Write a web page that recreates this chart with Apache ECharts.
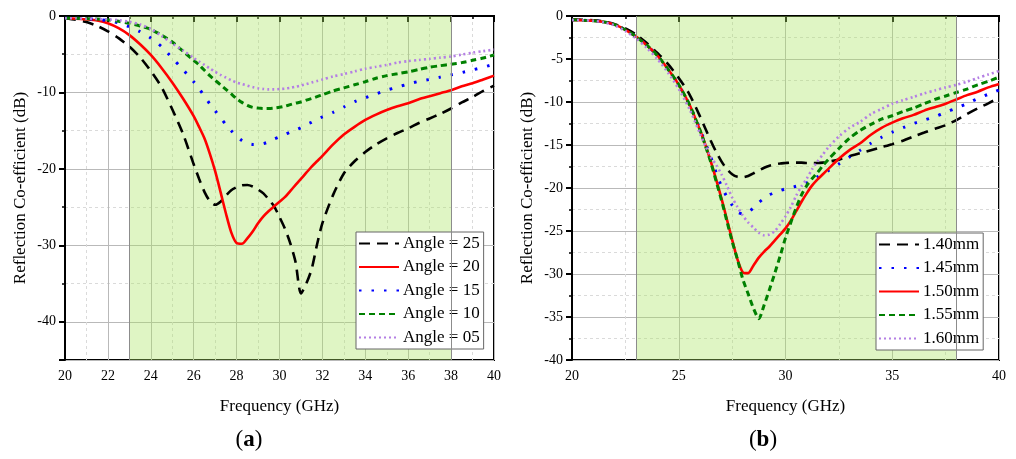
<!DOCTYPE html>
<html><head><meta charset="utf-8">
<script src="https://cdn.jsdelivr.net/npm/echarts@6/dist/echarts.min.js"></script>
<style>html,body{margin:0;padding:0;background:#fff}#c{width:1016px;height:459px}</style>
</head><body><div id="c"></div>
<script>
// Frequency grid (GHz), shared by all curves
const freq = [20,20.5,21,21.5,22,22.5,23,23.5,24,24.5,25,25.5,26,
  26.25,26.5,26.75,27,27.25,27.5,27.75,28,28.25,28.5,28.75,29,29.25,29.5,29.75,30,30.25,30.5,30.75,31,31.25,31.5,31.75,
  32,32.5,33,33.5,34,34.5,35,35.5,36,36.5,37,37.5,38,38.5,39,39.5,40];

// (a) incidence angle
const angle25 = [-0.3,-0.5,-0.8,-1.3,-2.0,-2.9,-4.0,-5.4,-7.2,-9.3,-12.2,-15.4,-19.4,
  -21.3,-23.0,-24.2,-24.7,-24.3,-23.5,-22.8,-22.4,-22.15,-22.1,-22.3,-22.7,-23.2,-24.0,-24.9,-26.3,-27.8,-29.7,-32.2,-36.3,-35.0,-33.1,-29.9,
  -27.1,-23.4,-20.6,-19.0,-17.8,-16.8,-16.0,-15.3,-14.7,-14.0,-13.4,-12.8,-12.1,-11.3,-10.6,-9.8,-9.1];
const angle20 = [-0.3,-0.35,-0.45,-0.6,-0.95,-1.6,-2.5,-3.7,-5.1,-6.8,-8.7,-10.8,-13.1,
  -14.5,-16.0,-18.0,-20.3,-23.0,-25.8,-28.3,-29.7,-29.8,-29.1,-28.2,-27.1,-26.2,-25.5,-24.9,-24.3,-23.7,-22.9,-22.1,-21.3,-20.5,-19.7,-19.0,
  -18.3,-16.8,-15.5,-14.5,-13.6,-12.9,-12.3,-11.8,-11.4,-10.9,-10.5,-10.1,-9.7,-9.2,-8.8,-8.3,-7.8];
const angle15 = [-0.3,-0.3,-0.35,-0.45,-0.6,-0.9,-1.4,-2.05,-2.9,-4.0,-5.5,-7.0,-8.6,
  -9.5,-10.5,-11.5,-12.4,-13.3,-14.2,-15.0,-15.7,-16.3,-16.65,-16.8,-16.8,-16.7,-16.45,-16.1,-15.8,-15.5,-15.2,-14.9,-14.6,-14.2,-13.9,-13.5,
  -13.2,-12.6,-11.9,-11.2,-10.7,-10.2,-9.7,-9.3,-8.9,-8.55,-8.3,-8.0,-7.7,-7.4,-7.05,-6.7,-6.3];
const angle10 = [-0.3,-0.3,-0.35,-0.4,-0.5,-0.7,-0.95,-1.3,-1.75,-2.5,-3.4,-4.6,-5.8,
  -6.4,-7.1,-7.8,-8.4,-9.0,-9.6,-10.2,-10.8,-11.3,-11.7,-11.95,-12.05,-12.1,-12.1,-12.05,-11.95,-11.8,-11.6,-11.4,-11.25,-11.0,-10.8,-10.55,
  -10.3,-9.8,-9.4,-9.0,-8.6,-8.15,-7.8,-7.55,-7.3,-7.0,-6.7,-6.5,-6.3,-6.1,-5.8,-5.5,-5.1];
const angle05 = [-0.3,-0.3,-0.35,-0.4,-0.45,-0.55,-0.75,-1.1,-1.7,-2.6,-3.6,-4.5,-5.5,
  -5.95,-6.4,-6.85,-7.3,-7.7,-8.05,-8.4,-8.7,-8.9,-9.1,-9.3,-9.45,-9.55,-9.6,-9.6,-9.55,-9.5,-9.4,-9.25,-9.1,-8.9,-8.7,-8.5,
  -8.3,-7.9,-7.6,-7.25,-6.9,-6.65,-6.4,-6.1,-5.9,-5.75,-5.6,-5.45,-5.3,-5.05,-4.8,-4.6,-4.4];

// (b) thickness
const t140 = [-0.4,-0.45,-0.5,-0.65,-0.95,-1.45,-2.15,-3.15,-4.3,-5.6,-7.2,-9.1,-11.7,
  -13.1,-14.5,-15.8,-16.9,-17.8,-18.4,-18.7,-18.75,-18.6,-18.3,-17.95,-17.65,-17.4,-17.25,-17.15,-17.1,-17.05,-17.05,-17.05,-17.1,-17.1,-17.1,-17.05,
  -16.95,-16.7,-16.3,-15.95,-15.6,-15.25,-14.9,-14.5,-14.0,-13.55,-13.1,-12.7,-12.1,-11.4,-10.75,-10.15,-9.5];
const t145 = [-0.45,-0.5,-0.55,-0.7,-1.0,-1.6,-2.4,-3.4,-4.6,-6.2,-8.0,-10.3,-13.2,
  -14.8,-16.4,-18.2,-19.8,-21.0,-22.0,-22.8,-23.0,-22.8,-22.3,-21.7,-21.2,-20.8,-20.5,-20.3,-20.1,-19.95,-19.8,-19.6,-19.4,-19.1,-18.7,-18.35,
  -18.0,-17.2,-16.4,-15.6,-14.8,-14.1,-13.5,-13.0,-12.5,-12.1,-11.7,-11.2,-10.7,-10.2,-9.6,-9.1,-8.6];
const t150 = [-0.45,-0.5,-0.55,-0.7,-1.0,-1.6,-2.4,-3.4,-4.6,-6.2,-8.0,-10.3,-13.3,
  -15.0,-16.9,-19.0,-21.2,-23.6,-26.0,-28.3,-29.8,-29.9,-29.0,-28.1,-27.4,-26.8,-26.1,-25.4,-24.7,-23.8,-22.7,-21.6,-20.6,-19.7,-19.0,-18.4,
  -17.8,-16.6,-15.6,-14.8,-13.8,-13.0,-12.4,-11.9,-11.5,-11.0,-10.6,-10.2,-9.7,-9.2,-8.8,-8.3,-7.9];
const t155 = [-0.45,-0.5,-0.55,-0.7,-1.0,-1.6,-2.4,-3.4,-4.6,-6.2,-8.0,-10.3,-13.3,
  -15.1,-17.0,-19.2,-21.4,-23.8,-26.2,-28.3,-30.6,-32.3,-34.0,-35.2,-33.6,-31.8,-29.9,-27.9,-25.8,-24.0,-22.3,-20.8,-19.7,-18.9,-18.2,-17.4,
  -16.7,-15.4,-14.2,-13.3,-12.6,-12.0,-11.6,-11.1,-10.7,-10.2,-9.7,-9.3,-8.9,-8.5,-8.0,-7.6,-7.1];
const t160 = [-0.45,-0.5,-0.55,-0.75,-1.1,-1.75,-2.6,-3.7,-5.0,-6.6,-8.5,-10.8,-13.7,
  -15.1,-16.4,-17.3,-18.4,-19.7,-21.1,-22.2,-23.2,-24.0,-24.6,-25.2,-25.5,-25.4,-25.0,-24.2,-23.3,-22.2,-20.9,-19.8,-18.9,-17.8,-16.9,-16.1,
  -15.3,-14.0,-13.0,-12.3,-11.4,-10.8,-10.2,-9.8,-9.4,-9.0,-8.65,-8.3,-8.0,-7.65,-7.2,-6.8,-6.4];

const namesA = ['Angle = 25','Angle = 20','Angle = 15','Angle = 10','Angle = 05'];
const namesB = ['1.40mm','1.45mm','1.50mm','1.55mm','1.60mm'];
const band = [23, 38];
const xTitle = 'Frequency (GHz)';
const yTitle = 'Reflection Co-efficient (dB)';

const FONT = 'Liberation Serif';
const sty = {
  black: {color:'#000000', width:2.6, type:[11,7]},
  red:   {color:'#ff0000', width:2.6, type:'solid'},
  blue:  {color:'#0000ff', width:3, type:[2.5,10]},
  green: {color:'#008000', width:3, type:[6,4]},
  violet:{color:'#b47fe4', width:2.6, type:[2,3]}
};
function pairs(ys){ return freq.map((f,i)=>[f, ys[i]]); }
function mk(name, ys, gi, s, withBand){
  const o = {
    name, type:'line', xAxisIndex:gi, yAxisIndex:gi, data:pairs(ys),
    symbol:'none', smooth:0.25, animation:false,
    lineStyle:{color:s.color, width:s.width, type:s.type, cap:'butt'},
    itemStyle:{color:s.color}
  };
  if (withBand){
    o.markArea = {silent:true, itemStyle:{color:'rgba(172,228,100,0.38)', borderWidth:0},
      data:[[{xAxis:band[0]},{xAxis:band[1]}]]};
    o.markLine = {silent:true, symbol:'none', label:{show:false},
      lineStyle:{color:'#8c8c8c', width:1, type:'solid'},
      data:[{xAxis:band[0]},{xAxis:band[1]}]};
  }
  return o;
}
function xAx(gi, interval){
  return {gridIndex:gi, type:'value', min:20, max:40, interval,
    name:xTitle, nameLocation:'middle', nameGap:38,
    nameTextStyle:{fontFamily:FONT, fontSize:17, color:'#000'},
    axisLine:{show:true, lineStyle:{color:'#000', width:2}},
    axisTick:{show:true, length:6, lineStyle:{color:'#000', width:2}},
    minorTick:{show:true, splitNumber:2, length:3, lineStyle:{color:'#000', width:1.5}},
    axisLabel:{fontFamily:FONT, fontSize:14, color:'#000', margin:9},
    splitLine:{show:true, lineStyle:{color:'#b9b9b9', width:1}},
    minorSplitLine:{show:true, lineStyle:{color:'#dadada', width:1, type:[3,3]}}
  };
}
function yAx(gi, min, interval){
  const a = {gridIndex:gi, type:'value', min, max:0,
    name:yTitle, nameLocation:'middle', nameGap:36,
    nameTextStyle:{fontFamily:FONT, fontSize:17, color:'#000'},
    axisLine:{show:true, lineStyle:{color:'#000', width:2}},
    axisTick:{show:true, length:6, lineStyle:{color:'#000', width:2}},
    minorTick:{show:true, splitNumber:2, length:3, lineStyle:{color:'#000', width:1.5}},
    axisLabel:{fontFamily:FONT, fontSize:14, color:'#000', margin:9,
      formatter:(v)=> (interval===null && v % 10 !== 0) ? '' : String(v)},
    splitLine:{show:true, lineStyle:{color:'#b9b9b9', width:1}},
    minorSplitLine:{show:true, lineStyle:{color:'#dadada', width:1, type:[3,3]}}
  };
  if (interval !== null) a.interval = interval;
  return a;
}
function leg(left, top, names){
  return {left, top, orient:'vertical', data:names,
    itemWidth:40, itemHeight:16, itemGap:6.5,
    itemStyle:{opacity:0, borderWidth:0, color:'rgba(0,0,0,0)'},
    backgroundColor:'#fff', borderColor:'#666', borderWidth:1, borderRadius:0,
    padding:[3,4,3,2],
    textStyle:{fontFamily:FONT, fontSize:17, color:'#000', padding:[0,0,0,-1]}};
}

const chart = echarts.init(document.getElementById('c'), null, {renderer:'canvas'});
chart.setOption({
  animation:false,
  backgroundColor:'#fff',
  grid:[
    {left:65, top:16, width:429, height:344, show:true, borderColor:'#000', borderWidth:2, containLabel:false},
    {left:572, top:16, width:427, height:344, show:true, borderColor:'#000', borderWidth:2, containLabel:false}
  ],
  xAxis:[xAx(0,2), xAx(1,5)],
  yAxis:[yAx(0,-45,null), yAx(1,-40,5)],
  legend:[leg(356,232,namesA), leg(876,233,namesB)],
  series:[
    mk(namesA[0], angle25, 0, sty.black, true),
    mk(namesA[1], angle20, 0, sty.red),
    mk(namesA[2], angle15, 0, sty.blue),
    mk(namesA[3], angle10, 0, sty.green),
    mk(namesA[4], angle05, 0, sty.violet),
    mk(namesB[0], t140, 1, sty.black, true),
    mk(namesB[1], t145, 1, sty.blue),
    mk(namesB[2], t150, 1, sty.red),
    mk(namesB[3], t155, 1, sty.green),
    mk(namesB[4], t160, 1, sty.violet)
  ],
  graphic:[
    {type:'text', x:249, y:440, style:{text:'({b|a})', textAlign:'center', textVerticalAlign:'middle',
      font:'23px "Liberation Serif"', fill:'#000', rich:{b:{fontWeight:'bold', fontSize:23, fontFamily:FONT}}}},
    {type:'text', x:763, y:440, style:{text:'({b|b})', textAlign:'center', textVerticalAlign:'middle',
      font:'23px "Liberation Serif"', fill:'#000', rich:{b:{fontWeight:'bold', fontSize:23, fontFamily:FONT}}}}
  ]
});
</script></body></html>
